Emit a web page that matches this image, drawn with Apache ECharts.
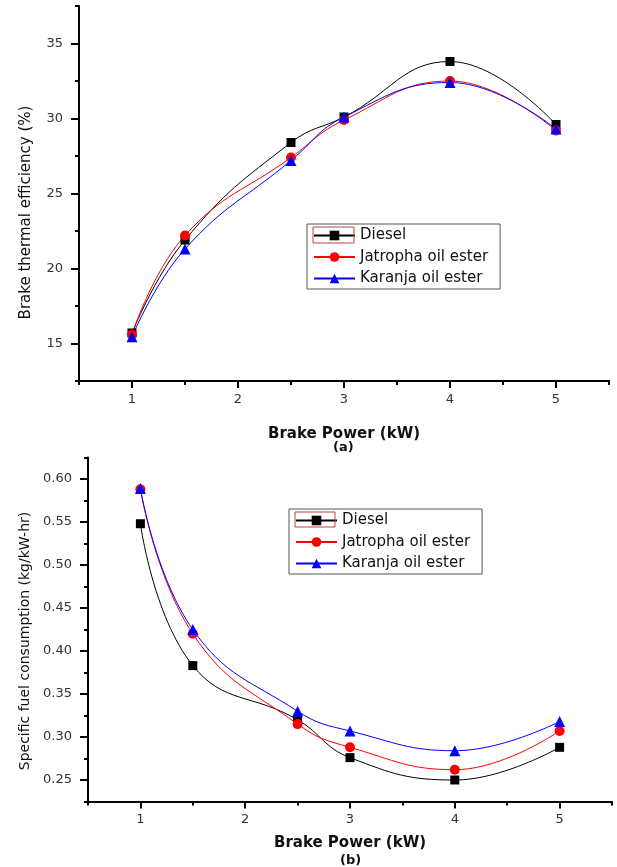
<!DOCTYPE html>
<html>
<head>
<meta charset="utf-8">
<script src="https://cdn.jsdelivr.net/npm/echarts@6/dist/echarts.min.js"></script>
<style>
html,body{margin:0;padding:0;background:#fff;}
#chart{width:617px;height:867px;}
</style>
</head>
<body>
<div id="chart"></div>
<script>
// Brake power (kW)
const powerValues = [1, 1.5, 2.5, 3, 4, 5];
// (a) Brake thermal efficiency (%)
const bteDiesel   = [15.7, 21.9, 28.4, 30.1, 33.8, 29.6];
const bteJatropha = [15.6, 22.2, 27.4, 29.9, 32.5, 29.2];
const bteKaranja  = [15.45, 21.3, 27.2, 30.1, 32.4, 29.3];
// (b) Specific fuel consumption (kg/kW-hr)
const sfcDiesel   = [0.548, 0.383, 0.320, 0.276, 0.250, 0.288];
const sfcJatropha = [0.588, 0.420, 0.315, 0.288, 0.262, 0.307];
const sfcKaranja  = [0.589, 0.425, 0.330, 0.307, 0.284, 0.318];
// tick labels
const xTickLabels = [1, 2, 3, 4, 5];
const xMinorTicks = [0.5, 1.5, 2.5, 3.5, 4.5, 5.5];
const bteTickLabels = [15, 20, 25, 30, 35];
const bteMinorTicks = [12.5, 17.5, 22.5, 27.5, 32.5, 37.5];
const sfcTickLabels = [0.25, 0.30, 0.35, 0.40, 0.45, 0.50, 0.55, 0.60];
const sfcMinorTicks = [0.225, 0.275, 0.325, 0.375, 0.425, 0.475, 0.525, 0.575, 0.625];
const seriesNames = ['Diesel', 'Jatropha oil ester', 'Karanja oil ester'];

const FONT = 'DejaVu Sans';
const pair = (ys) => powerValues.map((x, i) => [x, ys[i]]);

function mainX(grid, name, gap) {
  return {
    type: 'value', gridIndex: grid, position: 'bottom', min: 0.5, max: 5.5,
    name: name, nameLocation: 'middle', nameGap: gap,
    nameTextStyle: {fontFamily: FONT, fontSize: 15, fontWeight: 'bold', color: '#111'},
    axisLine: {show: true, lineStyle: {color: '#000', width: 2}},
    axisTick: {show: true, customValues: xMinorTicks, length: 4, lineStyle: {color: '#000', width: 2}},
    axisLabel: {customValues: xTickLabels, margin: 12, fontFamily: FONT, fontSize: 13, color: '#333'},
    splitLine: {show: false}
  };
}
function majorX(grid) {
  return {
    type: 'value', gridIndex: grid, position: 'bottom', min: 0.5, max: 5.5,
    axisLine: {show: false},
    axisTick: {show: true, customValues: xTickLabels, length: 7, lineStyle: {color: '#000', width: 2}},
    axisLabel: {show: false}, splitLine: {show: false}
  };
}
function mainY(grid, min, max, labels, minors, name, gap, pad, fs, fmt) {
  return {
    type: 'value', gridIndex: grid, position: 'left', min: min, max: max,
    name: name, nameLocation: 'middle', nameGap: gap,
    nameTextStyle: {fontFamily: FONT, fontSize: fs, color: '#111', padding: pad},
    axisLine: {show: true, lineStyle: {color: '#000', width: 2}},
    axisTick: {show: true, customValues: minors, length: 4, lineStyle: {color: '#000', width: 2}},
    axisLabel: {customValues: labels, margin: 16, fontFamily: FONT, fontSize: 13, color: '#333', formatter: fmt},
    splitLine: {show: false}
  };
}
function majorY(grid, min, max, labels) {
  return {
    type: 'value', gridIndex: grid, position: 'left', min: min, max: max,
    axisLine: {show: false},
    axisTick: {show: true, customValues: labels, length: 8, lineStyle: {color: '#000', width: 2}},
    axisLabel: {show: false}, splitLine: {show: false}
  };
}
const styles = [
  {symbol: 'rect', symbolSize: 9, color: '#000000'},
  {symbol: 'circle', symbolSize: 10, color: '#ff0000'},
  {symbol: 'triangle', symbolSize: 11, color: '#0000ff'}
];
function mkSeries(name, data, grid, st) {
  return {
    type: 'line', name: name, data: pair(data), xAxisIndex: grid * 2, yAxisIndex: grid * 2,
    smooth: 0.45, symbol: st.symbol, symbolSize: st.symbolSize, showSymbol: true,
    itemStyle: {color: st.color}, lineStyle: {color: st.color, width: 1},
    emphasis: {disabled: true}, animation: false
  };
}
function mkLegend(left, top) {
  return {
    orient: 'vertical', left: left, top: top, data: seriesNames,
    itemWidth: 41, itemHeight: 12, itemGap: 6.5, padding: [4, 12, 3, 6],
    borderColor: '#555', borderWidth: 1, backgroundColor: '#fff',
    textStyle: {fontFamily: FONT, fontSize: 15, color: '#111'},
    selectedMode: false
  };
}

const option = {
  backgroundColor: '#fff',
  animation: false,
  title: [
    {text: '(a)', left: 333, top: 441, padding: 0, textStyle: {fontFamily: FONT, fontSize: 13, fontWeight: 'bold', color: '#111'}},
    {text: '(b)', left: 340, top: 854, padding: 0, textStyle: {fontFamily: FONT, fontSize: 13, fontWeight: 'bold', color: '#111'}}
  ],
  grid: [
    {left: 79, top: 6, width: 530, height: 375},
    {left: 88, top: 457.5, width: 524, height: 344}
  ],
  xAxis: [mainX(0, 'Brake Power (kW)', 46), majorX(0), mainX(1, 'Brake Power (kW)', 34), majorX(1)],
  yAxis: [
    mainY(0, 12.5, 37.5, bteTickLabels, bteMinorTicks, 'Brake thermal efficiency (%)', 45, [0, 38, 0, 0], 15, (v) => String(v)),
    majorY(0, 12.5, 37.5, bteTickLabels),
    mainY(1, 0.225, 0.625, sfcTickLabels, sfcMinorTicks, 'Specific fuel consumption (kg/kW-hr)', 55, [0, 23, 0, 0], 14, (v) => v.toFixed(2)),
    majorY(1, 0.225, 0.625, sfcTickLabels)
  ],
  legend: [mkLegend(307, 224), mkLegend(289, 509)],
  series: [
    mkSeries(seriesNames[0], bteDiesel, 0, styles[0]),
    mkSeries(seriesNames[1], bteJatropha, 0, styles[1]),
    mkSeries(seriesNames[2], bteKaranja, 0, styles[2]),
    mkSeries(seriesNames[0], sfcDiesel, 1, styles[0]),
    mkSeries(seriesNames[1], sfcJatropha, 1, styles[1]),
    mkSeries(seriesNames[2], sfcKaranja, 1, styles[2])
  ],
  graphic: [
    {type: 'rect', shape: {x: 313, y: 227, width: 41, height: 16}, style: {fill: 'none', stroke: '#c04040', lineWidth: 1}, z: 100},
    {type: 'rect', shape: {x: 295, y: 512, width: 40, height: 15}, style: {fill: 'none', stroke: '#c04040', lineWidth: 1}, z: 100}
  ]
};
const chart = echarts.init(document.getElementById('chart'), null, {renderer: 'canvas'});
chart.setOption(option);
</script>
</body>
</html>
